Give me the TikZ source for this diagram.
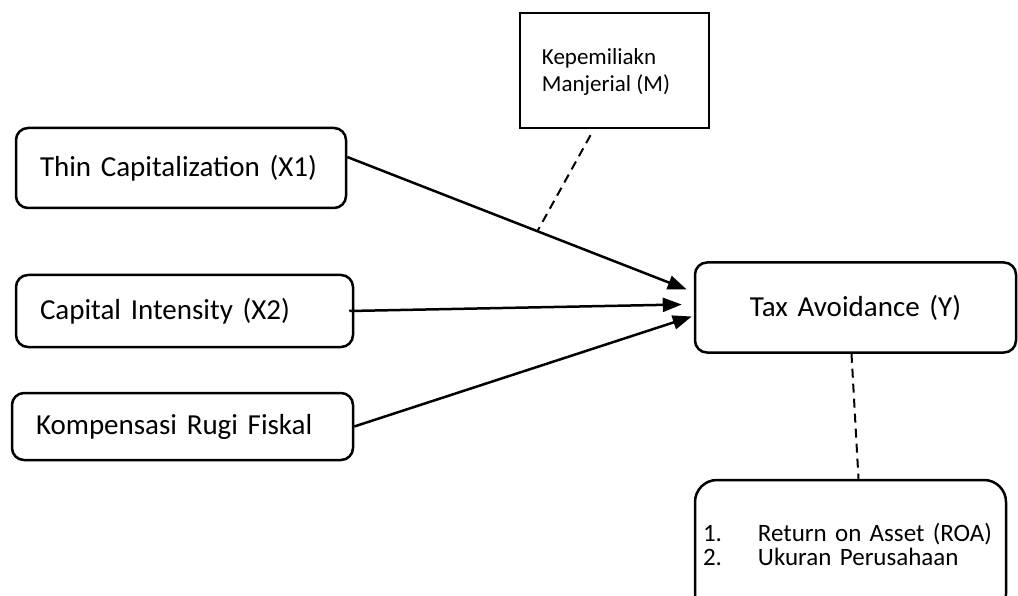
\documentclass[tikz,border=0pt]{standalone}
\usepackage{fontspec}
\setmainfont{Carlito}
\usepackage{xcolor}
\usetikzlibrary{arrows.meta}

\tikzset{
  varbox/.style={draw, line width=2.5pt, rounded corners=12pt, align=left,
    inner xsep=24pt, font=\fontsize{29}{35}\selectfont},
  arr/.style={line width=2.5pt, -{Triangle[length=19pt,width=14pt]}},
  dashline/.style={line width=2pt, dash pattern=on 9pt off 6pt}
}

\begin{document}
\begin{tikzpicture}[x=1pt,y=-1pt]
\useasboundingbox (0,0) rectangle (1018,596);
\clip (0,0) rectangle (1018,596);
%
\node[varbox, text width=282pt, minimum height=80pt] (thin) at (181,168) {Thin Capitalization (X1)};
\node[varbox, text width=289pt, minimum height=72pt] (cap) at (184.5,311) {Capital Intensity (X2)};
\node[varbox, text width=293pt, minimum height=67pt] (komp) at (182.5,426.5) {Kompensasi Rugi Fiskal};
%
\node[varbox, align=center, text width=273pt, minimum height=90pt] (tax) at (855.5,307.5) {Tax Avoidance (Y)};
%
\node[draw, line width=2.5pt, minimum width=189pt, minimum height=115pt] (mod) at (614.5,70.5) {};
\node[anchor=west, align=left, inner sep=0pt, font=\fontsize{23}{27}\selectfont]
  (modtxt) at ([xshift=23pt,yshift=-1pt]mod.west) {Kepemiliakn\\Manjerial (M)};
%
\node[varbox, rounded corners=22pt, inner xsep=8pt, text width=295pt, minimum height=136pt,
  font=\fontsize{25}{22.5}\selectfont] (ind) at (850.5,548)
  {\begin{tabular}{@{}l@{\hspace{36pt}}l@{}}1. & Return on Asset (ROA)\\ 2. & Ukuran Perusahaan\end{tabular}};
%
\draw[arr] ([yshift=11pt]thin.east) -- coordinate[pos=0.56] (hit) ([xshift=-7pt,yshift=18pt]tax.west);
\draw[arr] ([xshift=-5pt]cap.east) -- ([xshift=-12pt,yshift=3pt]tax.west);
\draw[arr] (komp.east) -- ([xshift=-2pt,yshift=-9pt]tax.west);
%
\draw[dashline] ([xshift=-24pt,yshift=-6pt]mod.south) -- (hit);
\draw[dashline] ([xshift=-4pt]tax.south) -- ([xshift=8pt]ind.north);
\end{tikzpicture}
\end{document}
